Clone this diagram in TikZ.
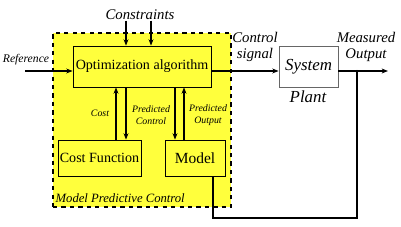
\documentclass[tikz,border=0pt]{standalone}
\usepackage{fontspec}
\setmainfont{Liberation Serif}
\usetikzlibrary{arrows.meta, positioning, calc}
\definecolor{mpcyellow}{RGB}{255,255,60}

\begin{document}
\begin{tikzpicture}[x=0.025cm, y=-0.025cm, >={Stealth[length=4.5pt,width=3.5pt]}, line width=0.9pt]
\tikzset{blk/.style={draw, line width=0.6pt, inner sep=0, minimum height=1.025cm}, lbl/.style={font=\fontsize{10.5}{11}\selectfont\itshape, align=center, inner sep=0}, tiny/.style={font=\fontsize{7}{8.5}\selectfont\itshape, align=center, inner sep=0}}
\useasboundingbox (0,0) rectangle (401,227);
\node[draw, dashed, line width=1pt, fill=mpcyellow, minimum width=4.45cm, minimum height=4.35cm, inner sep=0] (MPC) at (142,120) {};
\node[blk, minimum width=3.45cm, font=\fontsize{10}{12}\selectfont] (Opt) at (142,66.5) {Optimization algorithm};
\node[blk, minimum width=2.075cm, minimum height=0.9cm, font=\fontsize{10}{12}\selectfont] (CF) at (99.5,158) {Cost Function};
\node[blk, minimum width=1.5cm, minimum height=0.9cm, font=\fontsize{11}{13}\selectfont] (Mdl) at (195,158) {Model};
\node[blk, draw=black!60, fill=white, minimum width=1.475cm, font=\fontsize{12}{14}\selectfont\itshape] (Sys) at (308.5,66.5) {System};
\node[lbl, font=\fontsize{12}{14}\selectfont\itshape] (Plant) at (308,97) {Plant};
\node[lbl] (Cons) at (140,15) {Constraints};
\node[lbl, font=\fontsize{8.3}{10}\selectfont\itshape] (Ref) at (26,60) {Reference};
\node[lbl] (CS) at (255,47) {Control\\[1pt]signal};
\node[lbl] (MO) at (366,47) {Measured\\[1pt]Output};
\node[tiny] (Cst) at (100,113) {Cost};
\node[tiny] (PC) at (151,115) {Predicted\\Control};
\node[tiny] (PO) at (208,115) {Predicted\\Output};
\node[lbl, font=\fontsize{9}{11}\selectfont\itshape, anchor=west] (MPCl) at (55,198) {Model Predictive Control};
\coordinate (r) at (25,71); \coordinate (e) at (388,71); \coordinate (tap) at (357,71); \coordinate (fb) at (213,218);
\coordinate (c1) at (126,0); \coordinate (c2) at (151,0);
\coordinate (k1) at (116,0); \coordinate (k2) at (126,0); \coordinate (k3) at (175,0); \coordinate (k4) at (184,0);
% inputs
\draw[->] (Cons.south -| c1) -- (Opt.north -| c1); \draw[->] (Cons.south -| c2) -- (Opt.north -| c2);
\draw[->] (r) -- (Opt.west |- r);
% inner loop
\draw[->] (CF.north -| k1) -- (Opt.south -| k1); \draw[->] (Opt.south -| k2) -- (CF.north -| k2);
\draw[->] (Opt.south -| k3) -- (Mdl.north -| k3); \draw[->] (Mdl.north -| k4) -- (Opt.south -| k4);
% plant and feedback
\draw[->] (Opt.east |- r) -- (Sys.west |- r);
\draw[->] (Sys.east |- r) -- (e);
\fill (tap) circle (1);
\draw (tap) |- (fb) -- (Mdl.south -| fb);
\end{tikzpicture}
\end{document}
